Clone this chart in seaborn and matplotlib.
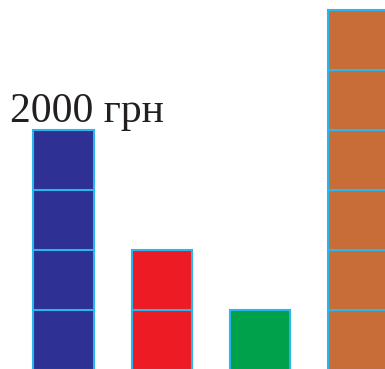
import matplotlib
matplotlib.use("Agg")
import matplotlib.pyplot as plt
import seaborn as sns

# bar values in UAH, each block = 500 грн
categories = ["A", "B", "C", "D"]
values = [2000, 1000, 500, 3000]
unit = 500
colors = ["#2E3192", "#ED1C24", "#00A14B", "#C86C38"]
edge = "#29B6EA"
label = "2000 грн"

sns.set_style("white")

fig = plt.figure(figsize=(3.85, 3.69), dpi=100)
ax = fig.add_axes([0, 0, 1, 1])

sns.barplot(x=categories, y=values, hue=categories, palette=colors,
            legend=False, width=0.615, edgecolor=edge, linewidth=1.5,
            saturation=1, ax=ax)

# split each bar into 500 грн blocks
for patch, v in zip(ax.patches, values):
    x0 = patch.get_x()
    x1 = x0 + patch.get_width()
    for k in range(1, v // unit):
        ax.hlines(k * unit, x0, x1, color=edge, linewidth=1.5)

ax.text(-0.545, 2065, label, fontsize=30, family="Liberation Serif",
        color="#231F20", va="baseline", ha="left")

ax.set_xlim(-0.646, 3.27)
ax.set_ylim(8, 3083)
ax.axis("off")

fig.savefig("out.png", dpi=100)
